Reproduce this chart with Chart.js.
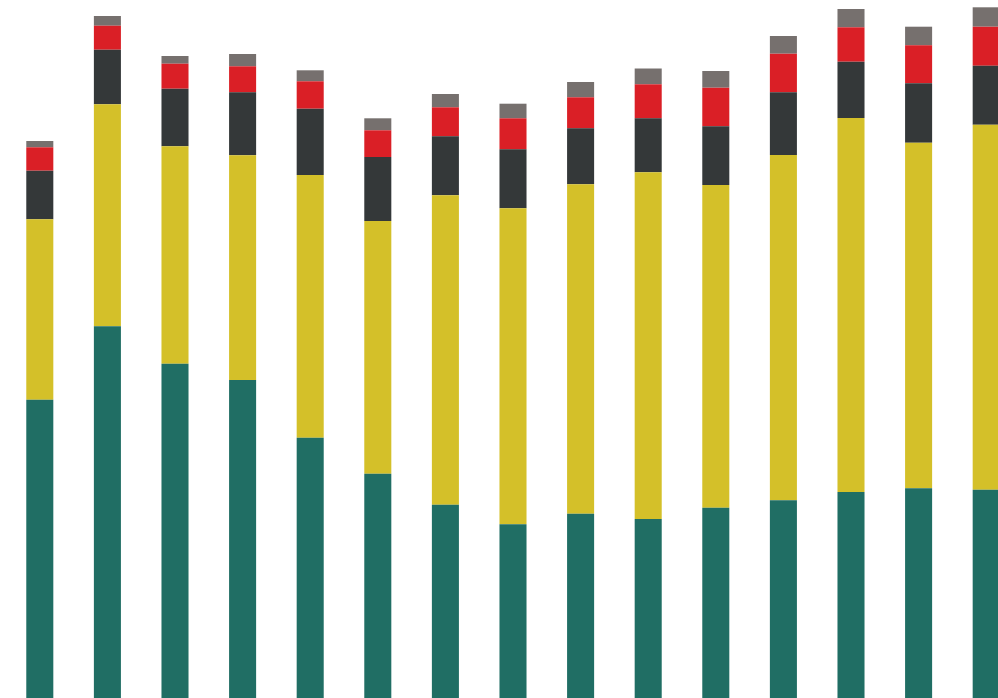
<!DOCTYPE html>
<html>
<head>
<meta charset="utf-8">
<script src="https://cdn.jsdelivr.net/npm/chart.js@4/dist/chart.umd.min.js"></script>
<style>
  html, body { margin: 0; padding: 0; background: #ffffff; overflow: hidden; width: 998px; height: 698px; }
  #wrap { position: absolute; left: 5.7px; top: 0; width: 1014px; height: 698px; }
</style>
</head>
<body>
<div id="wrap"><canvas id="c"></canvas></div>
<script>
const categories = ["1","2","3","4","5","6","7","8","9","10","11","12","13","14","15"];
const seriesTeal   = [298.3, 371.7, 334.3, 318.0, 260.3, 224.3, 193.3, 173.7, 184.3, 179.0, 190.3, 197.7, 206.0, 209.7, 208.3];
const seriesYellow = [180.4, 222.0, 217.4, 224.7, 262.7, 252.7, 309.4, 316.0, 329.4, 346.7, 322.7, 345.3, 374.0, 345.6, 365.0];
const seriesDark   = [48.6, 54.6, 57.6, 63.0, 66.3, 64.0, 59.0, 59.0, 56.0, 54.0, 58.7, 62.7, 56.3, 59.4, 59.0];
const seriesRed    = [23.4, 24.0, 25.0, 26.0, 27.4, 26.7, 29.0, 31.0, 31.0, 34.0, 38.6, 38.6, 34.4, 38.0, 39.0];
const seriesGray   = [6.3, 9.7, 7.7, 12.3, 11.0, 12.0, 13.3, 14.6, 15.3, 15.8, 16.7, 17.7, 18.3, 18.6, 19.4];

const mk = (data, color) => ({
  data, backgroundColor: color, borderWidth: 0,
  barPercentage: 0.4, categoryPercentage: 1.0
});

new Chart(document.getElementById('c'), {
  type: 'bar',
  data: {
    labels: categories,
    datasets: [
      mk(seriesTeal, '#206e64'),
      mk(seriesYellow, '#d4c029'),
      mk(seriesDark, '#343839'),
      mk(seriesRed, '#da1f26'),
      mk(seriesGray, '#76706e')
    ]
  },
  options: {
    responsive: true,
    maintainAspectRatio: false,
    animation: false,
    layout: { padding: 0 },
    plugins: { legend: { display: false }, tooltip: { enabled: false } },
    scales: {
      x: { stacked: true, display: false },
      y: { stacked: true, display: false, min: 0, max: 698 }
    }
  }
});
</script>
</body>
</html>
